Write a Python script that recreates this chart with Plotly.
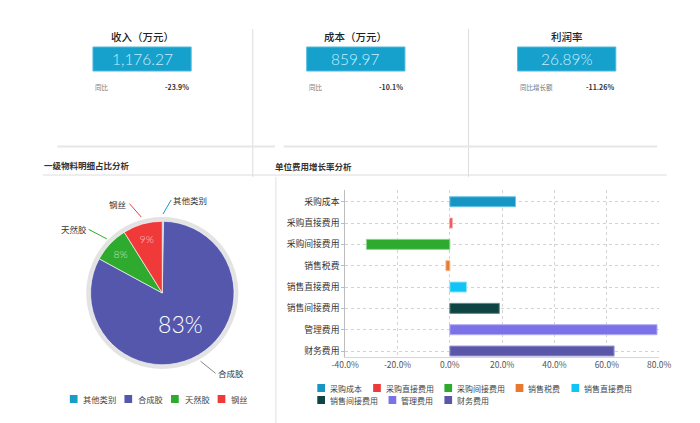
import math
import plotly.graph_objects as go

W, H = 700, 423


def X(px):
    return px / W


def Y(py):
    return 1 - py / H


# ---------------- data ----------------
kpi_titles = ['收入（万元）', '成本（万元）', '利润率']
kpi_values = ['1,176.27', '859.97', '26.89%']
kpi_cmp_labels = ['同比', '同比', '同比增长额']
kpi_cmp_values = ['-23.9%', '-10.1%', '-11.26%']

pie_title = '一级物料明细占比分析'
pie_labels = ['其他类别', '合成胶', '天然胶', '钢丝']
pie_values = [0.3, 82.6, 8.2, 8.9]
pie_colors = ['#1a9bc8', '#5557ad', '#2eaa2e', '#f03a3a']

bar_title = '单位费用增长率分析'
bar_categories = ['采购成本', '采购直接费用', '采购间接费用', '销售税费',
                  '销售直接费用', '销售间接费用', '管理费用', '财务费用']
bar_values = [25.1, 0.9, -31.9, -1.5, 6.4, 18.9, 79.2, 62.8]
bar_colors = ['#1796c4', '#ee3a3a', '#2eaa2e', '#e8792e',
              '#10c4f5', '#0e4444', '#7b72e8', '#5a56a8']
bar_line_colors = ['#6cc6e6', '#f7a0a0', '#8fd68f', '#f4b98c',
                   '#8ee6fb', '#5f8f8f', '#b3adf4', '#9d9ad2']
x_ticks = [-40, -20, 0, 20, 40, 60, 80]

CJK = 'Noto Sans CJK SC'
THIN = 'Lato, Roboto'

fig = go.Figure()

# ---------------- pie ----------------
cx, cy = 154, 293
R_ring, R_pie = 79, 74.5
fig.add_trace(go.Pie(
    values=[1], labels=['_ring'], marker=dict(colors=['#e3e3e3']),
    textinfo='none', hoverinfo='skip', showlegend=False, sort=False,
    domain=dict(x=[X(cx - R_ring), X(cx + R_ring)], y=[Y(cy + R_ring), Y(cy - R_ring)]),
))
total = sum(pie_values)
fig.add_trace(go.Pie(
    labels=pie_labels, values=pie_values, sort=False, direction='clockwise', rotation=0,
    marker=dict(colors=pie_colors, line=dict(color='rgba(255,255,255,0.8)', width=0.8)),
    texttemplate=['' if v / total < 0.02 else '%{percent:.0%}' for v in pie_values],
    textposition='inside', insidetextorientation='horizontal',
    insidetextfont=dict(family=THIN, size=[1, 23, 10.5, 10.5], weight=300,
                        color=['white', 'white', 'rgba(255,255,255,0.7)', 'rgba(255,255,255,0.7)']),
    showlegend=False, hoverinfo='label+percent',
    domain=dict(x=[X(cx - R_pie), X(cx + R_pie)], y=[Y(cy + R_pie), Y(cy - R_pie)]),
))

# outside labels with leader lines (derived from slice angles)
cum = 0
for lab, v, col in zip(pie_labels, pie_values, pie_colors):
    mid = (cum + v / 2) / total * 2 * math.pi
    cum += v
    s, c = math.sin(mid), math.cos(mid)
    side = 1 if s >= 0 else -1
    hx, hy = cx + R_ring * s, cy - R_ring * c
    tx, ty = hx + s * 14 + side * 8, hy - c * 14
    fig.add_annotation(
        x=X(hx), y=Y(hy), xref='paper', yref='paper', ax=tx - hx, ay=ty - hy,
        axref='pixel', ayref='pixel', text=lab, showarrow=True, arrowhead=0,
        arrowwidth=1, arrowcolor=col if lab != '合成胶' else '#888', standoff=0,
        xanchor='left' if side > 0 else 'right', yanchor='middle',
        font=dict(family=CJK, size=8.5, color='#333'),
    )

# ---------------- bars ----------------
fig.add_trace(go.Bar(
    x=bar_values, y=bar_categories, orientation='h', width=0.47,
    marker=dict(color=bar_colors, line=dict(color=bar_line_colors, width=1)),
    showlegend=False, xaxis='x', yaxis='y',
))

fig.update_layout(
    width=W, height=H, margin=dict(l=0, r=0, t=0, b=0, pad=0),
    paper_bgcolor='white', plot_bgcolor='white', showlegend=False,
    font=dict(family=CJK, color='#333'),
    xaxis=dict(
        domain=[X(344), X(670)], range=[-40, 80], tickvals=x_ticks,
        ticktext=[f'{t:.1f}%' for t in x_ticks],
        showgrid=True, gridcolor='#d2d2d2', griddash='dot', gridwidth=1,
        zeroline=False, showline=True, linecolor='#d6d6d6', linewidth=1,
        ticks='', tickfont=dict(family=CJK, size=8.5, color='#555'), anchor='y',
    ),
    yaxis=dict(
        domain=[Y(357), Y(190)], categoryorder='array', categoryarray=bar_categories,
        range=[7.28, -0.55], showgrid=True, gridcolor='#d2d2d2', griddash='dot',
        gridwidth=1, zeroline=False, showline=True, linecolor='#bdbdbd', linewidth=1,
        ticks='outside', ticklen=3, tickcolor='#bdbdbd',
        tickfont=dict(family=CJK, size=8.8, color='#333'), anchor='x',
    ),
)

shapes = []
annotations = []

# ---------------- KPI cards ----------------
box_left = [82, 304, 523]
box_w = 102
for i in range(3):
    x0 = box_left[i]
    xc = x0 + box_w / 2
    annotations.append(dict(x=X(xc), y=Y(36), xref='paper', yref='paper', text=kpi_titles[i],
                            showarrow=False, xanchor='center', yanchor='middle',
                            font=dict(family=CJK, size=10.5, color='#222', weight=500)))
    shapes.append(dict(type='rect', xref='paper', yref='paper', x0=X(x0), x1=X(x0 + box_w),
                       y0=Y(71), y1=Y(47), fillcolor='#16a0cc',
                       line=dict(color='#4fb9de', width=1), layer='above'))
    annotations.append(dict(x=X(xc), y=Y(59), xref='paper', yref='paper', text=kpi_values[i],
                            showarrow=False, xanchor='center', yanchor='middle',
                            font=dict(family=THIN, size=15.5, color='#c6efff', weight=300)))
    annotations.append(dict(x=X(x0), y=Y(87), xref='paper', yref='paper', text=kpi_cmp_labels[i],
                            showarrow=False, xanchor='left', yanchor='middle',
                            font=dict(family=CJK, size=6.5, color='#777')))
    annotations.append(dict(x=X(x0 + box_w), y=Y(87), xref='paper', yref='paper',
                            text=kpi_cmp_values[i], showarrow=False, xanchor='right',
                            yanchor='middle',
                            font=dict(family=CJK, size=7, color='#333', weight=600)))

# separators
for sx in [248, 472]:
    shapes.append(dict(type='line', xref='paper', yref='paper', x0=X(sx), x1=X(sx),
                       y0=Y(29), y1=Y(177), line=dict(color='#dddddd', width=1)))
for a, b in [(45, 271), (280, 668)]:
    shapes.append(dict(type='line', xref='paper', yref='paper', x0=X(a), x1=X(b),
                       y0=Y(146.5), y1=Y(146.5), line=dict(color='#e6e6e6', width=2)))
shapes.append(dict(type='line', xref='paper', yref='paper', x0=X(30), x1=X(678),
                   y0=Y(175), y1=Y(175), line=dict(color='#dcdcdc', width=1)))
shapes.append(dict(type='line', xref='paper', yref='paper', x0=X(272), x1=X(272),
                   y0=Y(177), y1=Y(423), line=dict(color='#e0e0e0', width=1)))

# section titles
annotations.append(dict(x=X(29), y=Y(165), xref='paper', yref='paper', text=pie_title,
                        showarrow=False, xanchor='left', yanchor='middle',
                        font=dict(family=CJK, size=8.5, color='#333', weight=600)))
annotations.append(dict(x=X(269), y=Y(166), xref='paper', yref='paper', text=bar_title,
                        showarrow=False, xanchor='left', yanchor='middle',
                        font=dict(family=CJK, size=8.5, color='#333', weight=600)))


# ---------------- legends (swatch + text) ----------------
def legend_row(labels, colors, x_start, y, fsize, text_off, gap, sw=8):
    x = x_start
    for lab, col in zip(labels, colors):
        shapes.append(dict(type='rect', xref='paper', yref='paper', x0=X(x), x1=X(x + sw),
                           y0=Y(y + sw / 2), y1=Y(y - sw / 2), fillcolor=col,
                           line=dict(width=0)))
        annotations.append(dict(x=X(x + text_off - 1), y=Y(y), xref='paper', yref='paper',
                                text=lab, showarrow=False, xanchor='left', yanchor='middle',
                                font=dict(family=CJK, size=fsize, color='#444')))
        x = x + text_off + len(lab) * fsize + gap


legend_row(pie_labels, pie_colors, 58, 399, 8.3, 13, 10.5)
legend_row(bar_categories[:5], bar_colors[:5], 315, 388, 8, 12, 14)
legend_row(bar_categories[5:], bar_colors[5:], 315, 400, 8, 12, 14)

fig.update_layout(shapes=shapes, annotations=list(fig.layout.annotations) + annotations)

fig.write_html('out.html')
